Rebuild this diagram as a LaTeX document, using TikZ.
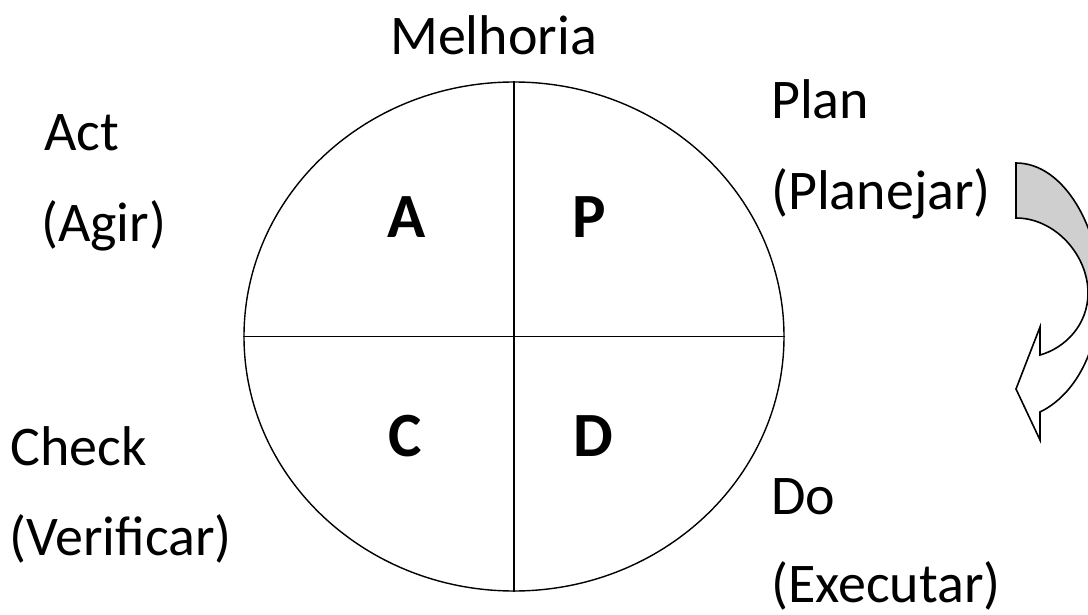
\documentclass[tikz,border=0pt]{standalone}
\usepackage{fontspec}
\setmainfont{Carlito}
\usetikzlibrary{shapes.geometric}
\begin{document}
\begin{tikzpicture}[x=1pt,y=-1pt,
  lbl/.style={inner sep=0pt,anchor=base west,font=\fontsize{56}{67}\selectfont},
  big/.style={inner sep=0pt,anchor=base,font=\fontsize{63}{75}\selectfont\bfseries},
  ln/.style={line width=1.4pt},
  arr/.style={line width=1.6pt,line join=miter}]
\useasboundingbox (0,0) rectangle (1088,615);
\clip (0,0) rectangle (1088,615);
% circle
\node[ellipse,draw,ln,minimum width=540pt,minimum height=509pt,inner sep=0pt] (circ) at (514,336.5) {};
\draw[ln] (circ.north) -- (circ.south);
\draw[ln] (circ.west) -- (circ.east);
% letters
\node[big] (A) at (407,237) {A};
\node[big] (P) at (589,237) {P};
\node[big] (C) at (405,456) {C};
\node[big] (D) at (593,456) {D};
% labels
\node[lbl] (mel) at (390,55) {Melhoria};
\node[lbl] (act) at (44,151) {Act};
\node[lbl] (agir) at (41,241) {(Agir)};
\node[lbl] (plan) at (771,119) {Plan};
\node[lbl] (planejar) at (771,210) {(Planejar)};
\node[lbl] (check) at (10,465) {Check};
\node[lbl] (verif) at (9,555) {(Verificar)};
\node[lbl] (do) at (771,514) {Do};
\node[lbl] (exec) at (771,602) {(Executar)};
% curved arrow
\fill[gray!38] (1016,163) .. controls (1065,163) and (1100,230) .. (1100,290)
  -- (1088,293) .. controls (1088,255) and (1055,218) .. (1016,218) -- cycle;
\draw[arr] (1016,218) -- (1016,163) .. controls (1065,163) and (1100,230) .. (1100,290)
  .. controls (1100,350) and (1075,395) .. (1040,412)
  -- (1040,440) -- (1016,389) -- (1040,327) -- (1040,355)
  .. controls (1065,348) and (1088,325) .. (1088,293)
  .. controls (1088,255) and (1055,218) .. (1016,218) -- cycle;
\end{tikzpicture}
\end{document}
